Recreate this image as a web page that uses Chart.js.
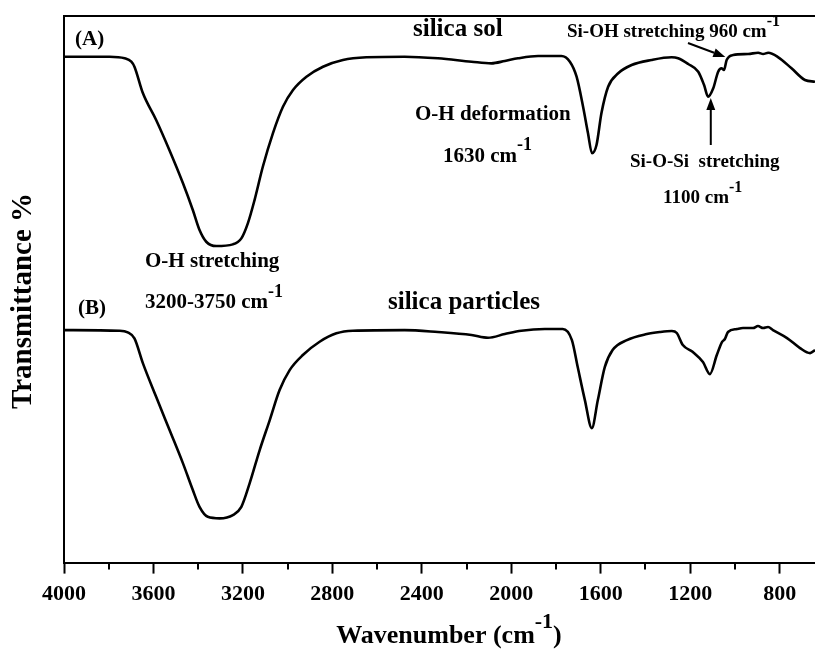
<!DOCTYPE html>
<html>
<head>
<meta charset="utf-8">
<script src="https://cdn.jsdelivr.net/npm/chart.js@4/dist/chart.umd.min.js"></script>
<style>
  html, body { margin: 0; padding: 0; background: #fff; }
  #wrap { width: 815px; height: 657px; position: relative; }
</style>
</head>
<body>
<div id="wrap"><canvas id="c"></canvas></div>
<script>
// ---- data (wavenumber in cm-1, transmittance in arbitrary %, curves offset) ----
const waveA = [4000,3796,3729,3699,3685,3647,3588,3528,3468,3424,3394,3364,3319,3245,3207,3178,3148,3111,3066,3021,2976,2916,2842,2753,2648,2477,2328,2178,2089,2029,1970,1880,1776,1738,1708,1679,1657,1639,1619,1597,1567,1522,1462,1373,1283,1254,1209,1164,1138,1120,1097,1075,1060,1049,1037,1008,941,896,874,851,806,747,687,642];
const transA = [92.55,92.55,92.26,91.64,90.72,85.85,80.97,75.39,69.39,64.50,60.84,58.70,57.91,58.22,59.32,62.07,66.33,72.42,78.54,83.40,86.46,88.89,90.72,91.95,92.44,92.55,92.26,91.64,91.34,91.77,92.26,92.68,92.68,91.64,88.89,83.40,78.54,74.88,76.39,82.20,87.06,89.52,91.03,91.95,92.44,92.26,91.22,89.81,87.37,85.23,86.77,89.81,90.43,90.12,91.95,92.86,93.05,93.28,93.05,93.28,92.44,90.43,88.29,87.98];

const waveB = [4000,3752,3715,3685,3647,3588,3528,3468,3424,3394,3357,3304,3245,3207,3170,3125,3080,3036,2991,2932,2857,2782,2708,2477,2328,2178,2104,2029,1955,1850,1770,1729,1703,1671,1640,1613,1582,1547,1483,1394,1336,1282,1260,1233,1188,1143,1112,1081,1058,1045,1031,991,964,919,897,874,852,830,767,709,664,642];
const transB = [42.54,42.42,42.12,41.02,36.45,30.34,24.25,18.15,13.27,10.21,8.38,8.09,8.69,10.21,14.49,20.59,26.08,31.56,35.22,37.97,40.40,41.94,42.42,42.54,42.18,41.63,41.13,41.81,42.42,42.73,42.73,40.71,35.77,29.73,24.61,29.73,35.77,38.88,40.71,41.81,42.18,42.36,42.00,39.80,38.52,36.69,34.49,37.97,40.35,40.90,42.18,42.73,42.91,42.91,43.28,42.91,43.09,42.54,41.08,39.25,38.33,38.88];

const majorTicks = [4000,3600,3200,2800,2400,2000,1600,1200,800];
const minorTicks = [3800,3400,3000,2600,2200,1800,1400,1000];

// arrow anchors in data units [wavenumber, transmittance]
const arrowSiOH = { from: [1210, 95.06], to: [1043, 92.5] };
const arrowSiOSi = { from: [1108, 76.4], to: [1108, 85.0] };

const serif = '"Liberation Serif", "Times New Roman", serif';

function toPoints(xs, ys) { return xs.map((x, i) => ({ x: x, y: ys[i] })); }

function drawSupText(ctx, parts, x, y, align) {
  let total = 0;
  parts.forEach(p => { ctx.font = 'bold ' + p.size + 'px ' + serif; p.w = ctx.measureText(p.t).width; total += p.w; });
  let cx = align === 'center' ? x - total / 2 : x;
  ctx.textAlign = 'left';
  ctx.textBaseline = 'middle';
  parts.forEach(p => {
    ctx.font = 'bold ' + p.size + 'px ' + serif;
    ctx.fillText(p.t, cx, y + (p.dy || 0));
    cx += p.w;
  });
}

function drawArrow(ctx, x1, y1, x2, y2) {
  const ang = Math.atan2(y2 - y1, x2 - x1);
  const hl = 12, hw = 4.5;
  const bx = x2 - hl * Math.cos(ang), by = y2 - hl * Math.sin(ang);
  ctx.beginPath();
  ctx.moveTo(x1, y1);
  ctx.lineTo(bx, by);
  ctx.lineWidth = 2;
  ctx.strokeStyle = '#000';
  ctx.stroke();
  ctx.beginPath();
  ctx.moveTo(x2, y2);
  ctx.lineTo(bx + hw * Math.sin(ang), by - hw * Math.cos(ang));
  ctx.lineTo(bx - hw * Math.sin(ang), by + hw * Math.cos(ang));
  ctx.closePath();
  ctx.fillStyle = '#000';
  ctx.fill();
}

const decorPlugin = {
  id: 'decor',
  beforeDraw(chart) {
    const ctx = chart.ctx;
    ctx.save();
    ctx.fillStyle = '#fff';
    ctx.fillRect(0, 0, chart.width, chart.height);
    ctx.restore();
  },
  afterDraw(chart) {
    const ctx = chart.ctx;
    const a = chart.chartArea;
    const xs = chart.scales.x, ys = chart.scales.y;
    ctx.save();
    // top frame line
    ctx.beginPath();
    ctx.moveTo(a.left - 1, a.top);
    ctx.lineTo(a.right, a.top);
    ctx.lineWidth = 2.2;
    ctx.strokeStyle = '#000';
    ctx.stroke();
    // minor ticks
    ctx.lineWidth = 2;
    minorTicks.forEach(v => {
      const px = Math.round(xs.getPixelForValue(v));
      ctx.beginPath();
      ctx.moveTo(px, a.bottom);
      ctx.lineTo(px, a.bottom + 7);
      ctx.stroke();
    });
    // arrows
    drawArrow(ctx, xs.getPixelForValue(arrowSiOH.from[0]), ys.getPixelForValue(arrowSiOH.from[1]),
                   xs.getPixelForValue(arrowSiOH.to[0]), ys.getPixelForValue(arrowSiOH.to[1]));
    drawArrow(ctx, xs.getPixelForValue(arrowSiOSi.from[0]), ys.getPixelForValue(arrowSiOSi.from[1]),
                   xs.getPixelForValue(arrowSiOSi.to[0]), ys.getPixelForValue(arrowSiOSi.to[1]));
    // texts
    ctx.fillStyle = '#000';
    drawSupText(ctx, [{t: '(A)', size: 21}], 75, 40);
    drawSupText(ctx, [{t: '(B)', size: 21}], 78, 309);
    drawSupText(ctx, [{t: 'silica sol', size: 25}], 413, 30);
    drawSupText(ctx, [{t: 'silica particles', size: 25}], 388, 303);
    drawSupText(ctx, [{t: 'O-H stretching', size: 21}], 145, 262);
    drawSupText(ctx, [{t: '3200-3750 cm', size: 21}, {t: '-1', size: 18, dy: -11}], 145, 303);
    drawSupText(ctx, [{t: 'O-H deformation', size: 21}], 415, 115);
    drawSupText(ctx, [{t: '1630 cm', size: 21}, {t: '-1', size: 18, dy: -12}], 443, 157);
    drawSupText(ctx, [{t: 'Si-OH stretching 960 cm', size: 19}, {t: '-1', size: 16, dy: -10}], 567, 32);
    drawSupText(ctx, [{t: 'Si-O-Si  stretching', size: 19}], 630, 162);
    drawSupText(ctx, [{t: '1100 cm', size: 19}, {t: '-1', size: 16, dy: -10}], 663, 198);
    // axis titles
    drawSupText(ctx, [{t: 'Wavenumber (cm', size: 26}, {t: '-1', size: 22, dy: -14}, {t: ')', size: 26}], 449, 636, 'center');
    ctx.save();
    ctx.translate(24, 301);
    ctx.rotate(-Math.PI / 2);
    ctx.font = 'bold 29px ' + serif;
    ctx.textAlign = 'center';
    ctx.textBaseline = 'middle';
    ctx.fillText('Transmittance %', 0, 0);
    ctx.restore();
    ctx.restore();
  }
};

new Chart(document.getElementById('c'), {
  type: 'line',
  data: {
    datasets: [
      { label: 'silica sol', data: toPoints(waveA, transA), borderColor: '#000', borderWidth: 2.6, pointRadius: 0, fill: false, cubicInterpolationMode: 'monotone' },
      { label: 'silica particles', data: toPoints(waveB, transB), borderColor: '#000', borderWidth: 2.6, pointRadius: 0, fill: false, cubicInterpolationMode: 'monotone' }
    ]
  },
  options: {
    responsive: true,
    maintainAspectRatio: false,
    animation: false,
    layout: { padding: { left: 64, right: 0, top: 16, bottom: 41 } },
    plugins: { legend: { display: false }, tooltip: { enabled: false } },
    scales: {
      x: {
        type: 'linear',
        reverse: true,
        min: 642,
        max: 4000,
        afterBuildTicks(axis) {
          axis.ticks = majorTicks.concat(minorTicks).sort((p, q) => q - p).map(v => ({ value: v }));
        },
        ticks: {
          autoSkip: false,
          maxRotation: 0,
          padding: 8,
          color: '#000',
          font: { family: serif, size: 22, weight: 'bold' },
          callback: (v) => majorTicks.includes(v) ? String(v) : ''
        },
        grid: {
          display: true,
          drawOnChartArea: false,
          drawTicks: true,
          tickLength: 11,
          tickWidth: 2,
          tickColor: (c) => (c.tick && majorTicks.includes(c.tick.value)) ? '#000' : 'rgba(0,0,0,0)'
        },
        border: { display: true, color: '#000', width: 2 }
      },
      y: {
        type: 'linear',
        min: 0,
        max: 100,
        ticks: { display: false },
        grid: { display: false, drawTicks: false },
        border: { display: true, color: '#000', width: 2 }
      }
    }
  },
  plugins: [decorPlugin]
});
</script>
</body>
</html>
